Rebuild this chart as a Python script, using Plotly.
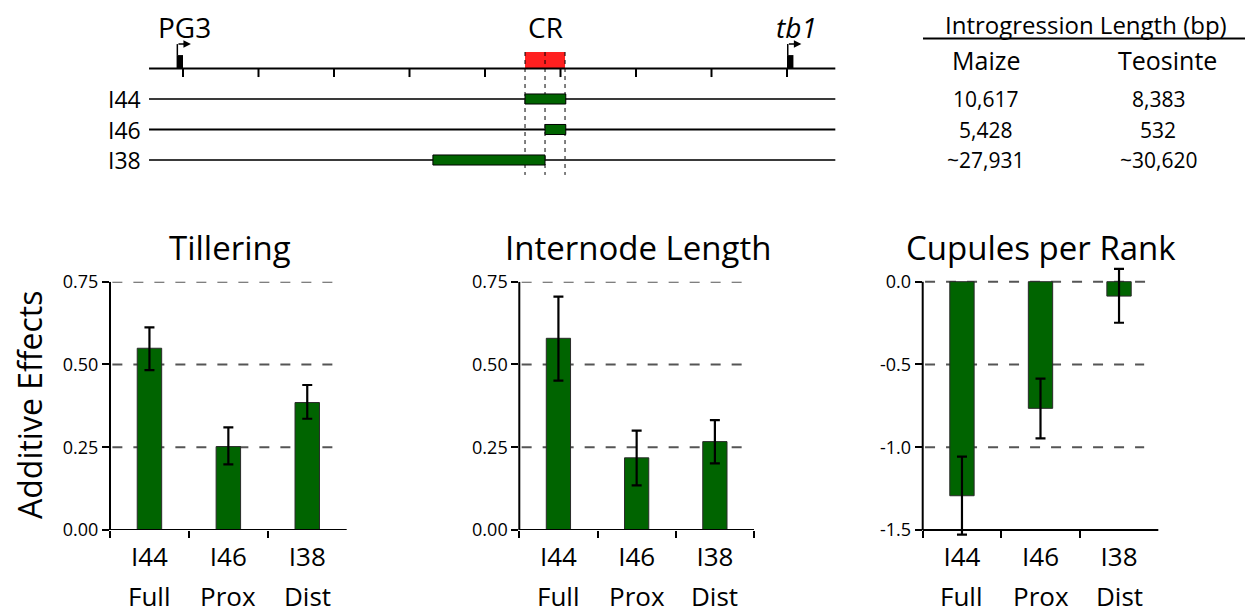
import plotly.graph_objects as go

W, H = 1253, 613
OFF = 8  # page body margin: figure is drawn 8px right/down of the page origin
FONT = "Open Sans"

# ---------------- data ----------------
categories = ["I44", "I46", "I38"]
sublabels = ["Full", "Prox", "Dist"]

panel_titles = ["Tillering", "Internode Length", "Cupules per Rank"]

tiller_vals = [0.549, 0.252, 0.385]
tiller_plus = [0.063, 0.058, 0.053]
tiller_minus = [0.066, 0.054, 0.049]

internode_vals = [0.579, 0.218, 0.267]
internode_plus = [0.126, 0.082, 0.065]
internode_minus = [0.128, 0.083, 0.066]

cupule_vals = [-1.293, -0.765, -0.087]
cupule_plus = [0.236, 0.179, 0.164]
cupule_minus = [0.235, 0.181, 0.161]

tiller_ticks = [0.0, 0.25, 0.5, 0.75]
tiller_ticktext = ["0.00", "0.25", "0.50", "0.75"]
internode_ticks = [0.0, 0.25, 0.5, 0.75]
internode_ticktext = ["0.00", "0.25", "0.50", "0.75"]
cupule_ticks = [-1.5, -1.0, -0.5, 0.0]
cupule_ticktext = ["-1.5", "-1.0", "-0.5", "0.0"]

tiller_grid = [0.25, 0.5, 0.75]
internode_grid = [0.25, 0.5, 0.75]
cupule_grid = [-1.0, -0.5, 0.0]

# genomic map (schematic map units)
map_start, map_end = -4.5, 86.4
map_ticks = [0, 10, 20, 30, 40, 50, 60, 70, 80]
cr_start, cr_mid, cr_end = 45.3, 47.95, 50.6
lines = ["I44", "I46", "I38"]
intro_start = [45.3, 47.95, 33.1]
intro_end = [50.7, 50.7, 47.95]
genes = ["PG3", "<i>tb1</i>"]
gene_pos = [0.0, 80.0]
gene_len = 0.85

table_header = "Introgression Length (bp)"
table_cols = ["Maize", "Teosinte"]
maize_len = ["10,617", "5,428", "~27,931"]
teosinte_len = ["8,383", "532", "~30,620"]

# ---------------- helpers (page pixel -> paper fraction) ----------------
def px(x):
    return (x - OFF) / W

def py(y):
    return 1 - (y - OFF) / H

GREEN = "#006400"
fig = go.Figure()

panels = [
    dict(vals=tiller_vals, plus=tiller_plus, minus=tiller_minus, ticks=tiller_ticks,
         ticktext=tiller_ticktext, grid=tiller_grid, lo=0.0, hi=0.75, rng=[0.0, 0.75],
         xdom=[110, 346.7], gridend=[0.94, 0.94, 0.94], title_x=230),
    dict(vals=internode_vals, plus=internode_plus, minus=internode_minus, ticks=internode_ticks,
         ticktext=internode_ticktext, grid=internode_grid, lo=0.0, hi=0.75, rng=[0.0, 0.75],
         xdom=[519.3, 754], gridend=[0.95, 0.95, 0.95], title_x=638),
    dict(vals=cupule_vals, plus=cupule_plus, minus=cupule_minus, ticks=cupule_ticks,
         ticktext=cupule_ticktext, grid=cupule_grid, lo=-1.5, hi=0.0, rng=[-1.56, 0.1],
         xdom=[922.7, 1158.3], gridend=[0.94, 0.94, 0.986], title_x=1041),
]

PX_BOTTOM, PX_TOP = 530.0, 281.7
shapes = []
annotations = []
layout_axes = {}

for i, p in enumerate(panels):
    n = "" if i == 0 else str(i + 1)
    scale = (PX_BOTTOM - PX_TOP) / (p["hi"] - p["lo"])
    top_px = PX_TOP - (p["rng"][1] - p["hi"]) * scale
    bot_px = PX_BOTTOM + (p["lo"] - p["rng"][0]) * scale
    fig.add_trace(go.Bar(
        x=categories, y=p["vals"], width=0.31,
        marker=dict(color=GREEN, line=dict(color="#2a2a2a", width=1)),
        error_y=dict(type="data", symmetric=False, array=p["plus"], arrayminus=p["minus"],
                     color="black", thickness=2.2, width=5),
        xaxis="x" + n, yaxis="y" + n, showlegend=False, hoverinfo="skip",
    ))
    layout_axes["xaxis" + n] = dict(
        domain=[px(p["xdom"][0]), px(p["xdom"][1])],
        anchor="free", position=py(PX_BOTTOM),
        type="category", range=[-0.5, 2.5], tickson="boundaries",
        ticks="outside", ticklen=7, tickwidth=2, tickcolor="black",
        showline=False, showgrid=False, zeroline=False,
        tickfont=dict(family=FONT, size=26, color="black"),
        ticklabelstandoff=9, automargin=False,
    )
    layout_axes["yaxis" + n] = dict(
        domain=[py(bot_px), py(top_px)], anchor="x" + n, range=p["rng"],
        tickvals=p["ticks"], ticktext=p["ticktext"],
        ticks="outside", ticklen=7, tickwidth=2, tickcolor="black",
        showline=False, showgrid=False, zeroline=False,
        tickfont=dict(family=FONT, size=18, color="black"), automargin=False,
    )
    xr = "x" + n
    yr = "y" + n
    # axis lines
    shapes.append(dict(type="line", xref=xr + " domain", yref=yr, x0=0, x1=0,
                       y0=p["lo"], y1=p["hi"], line=dict(color="black", width=2)))
    shapes.append(dict(type="line", xref=xr + " domain", yref=yr, x0=0, x1=1,
                       y0=p["lo"], y1=p["lo"], line=dict(color="black", width=2)))
    for g, ge in zip(p["grid"], p["gridend"]):
        shapes.append(dict(type="line", xref=xr + " domain", yref=yr, x0=0.01, x1=ge,
                           y0=g, y1=g, layer="below",
                           line=dict(color="#555555", width=2, dash="10px,11px")))
    annotations.append(dict(text=panel_titles[i], xref="paper", yref="paper",
                            x=px(p["title_x"]), y=py(247), xanchor="center", yanchor="middle",
                            showarrow=False, font=dict(family=FONT, size=33, color="black")))
    for c, s in zip(categories, sublabels):
        annotations.append(dict(text=s, xref=xr, yref="paper", x=c, y=py(596),
                                xanchor="center", yanchor="middle", showarrow=False,
                                font=dict(family=FONT, size=26, color="black")))

annotations.append(dict(text="Additive Effects", xref="paper", yref="paper",
                        x=px(30), y=py(405), textangle=-90, xanchor="center", yanchor="middle",
                        showarrow=False, font=dict(family=FONT, size=32, color="black")))

# ---------------- genomic map ----------------
# map axis: x in map units, y in row index (0 = map line, 1..3 = lines)
U = 7.55          # page px per map unit
X0 = 183.0        # page px of map unit 0
R0, RS = 68.5, 30.5
layout_axes["xaxis4"] = dict(domain=[0, 1], range=[(OFF - X0) / U, (W + OFF - X0) / U],
                             visible=False, anchor="y4", fixedrange=True)
layout_axes["yaxis4"] = dict(domain=[0, 1], range=[(H + OFF - R0) / RS, (OFF - R0) / RS],
                             visible=False, anchor="x4", fixedrange=True)
mx, my = "x4", "y4"
LABEL_ROW = (27 - R0) / RS

# CR box
shapes.append(dict(type="rect", xref=mx, yref=my, x0=cr_start, x1=cr_end, y0=-0.54, y1=0,
                   fillcolor="#ff2020", line=dict(width=0)))
# dashed verticals
for xv in [cr_start, cr_mid, cr_end]:
    shapes.append(dict(type="line", xref=mx, yref=my, x0=xv, x1=xv, y0=-0.54, y1=3.49,
                       line=dict(color="black", width=1, dash="4px,4px")))
# main map line
shapes.append(dict(type="line", xref=mx, yref=my, x0=map_start, x1=map_end, y0=0, y1=0,
                   line=dict(color="black", width=2)))
for t in map_ticks:
    shapes.append(dict(type="line", xref=mx, yref=my, x0=t, x1=t, y0=0, y1=0.28,
                       line=dict(color="black", width=2)))
# genes
for gname, gp in zip(genes, gene_pos):
    if gp == 0.0:
        gx0, gx1 = gp - gene_len, gp
    else:
        gx0, gx1 = gp, gp + gene_len
    shapes.append(dict(type="rect", xref=mx, yref=my, x0=gx0, x1=gx1, y0=-0.44, y1=0,
                       fillcolor="black", line=dict(width=0)))
    shapes.append(dict(type="line", xref=mx, yref=my, x0=gx0 + 0.1, x1=gx0 + 0.1, y0=-0.44, y1=-0.8,
                       line=dict(color="black", width=1.5)))
    annotations.append(dict(x=gx0 + 1.9, y=-0.8, ax=gx0 + 0.05, ay=-0.8, xref=mx, yref=my,
                            axref=mx, ayref=my, text="", showarrow=True, arrowhead=2,
                            arrowsize=1, arrowwidth=1.5, arrowcolor="black"))
    annotations.append(dict(text=gname, xref=mx, yref=my, x=gp + (0.2 if gp == 0 else 1.2),
                            y=LABEL_ROW, xanchor="center", yanchor="middle", showarrow=False,
                            font=dict(family=FONT, size=28, color="black")))
annotations.append(dict(text="CR", xref=mx, yref=my, x=cr_mid, y=LABEL_ROW, xanchor="center",
                        yanchor="middle", showarrow=False,
                        font=dict(family=FONT, size=28, color="black")))

# introgression lines
for r, (name, s, e) in enumerate(zip(lines, intro_start, intro_end), start=1):
    shapes.append(dict(type="line", xref=mx, yref=my, x0=map_start, x1=map_end, y0=r, y1=r,
                       line=dict(color="black" if name == "I46" else "#3a3a3a", width=2)))
    shapes.append(dict(type="rect", xref=mx, yref=my, x0=s, x1=e, y0=r - 0.165, y1=r + 0.165,
                       fillcolor=GREEN, line=dict(color="black", width=1)))
    annotations.append(dict(text=name, xref=mx, yref=my, x=(143 - X0) / U, y=r,
                            xanchor="right", yanchor="middle", showarrow=False,
                            font=dict(family=FONT, size=23, color="black")))
    annotations.append(dict(text=maize_len[r - 1], xref="paper", yref=my, x=px(985), y=r,
                            xanchor="center", yanchor="middle", showarrow=False,
                            font=dict(family=FONT, size=21, color="black")))
    annotations.append(dict(text=teosinte_len[r - 1], xref="paper", yref=my, x=px(1158), y=r,
                            xanchor="center", yanchor="middle", showarrow=False,
                            font=dict(family=FONT, size=21, color="black")))

# table header
annotations.append(dict(text=table_header, xref="paper", yref="paper", x=px(1086), y=py(25),
                        xanchor="center", yanchor="middle", showarrow=False,
                        font=dict(family=FONT, size=24, color="black")))
shapes.append(dict(type="line", xref="paper", yref="paper", x0=px(923), x1=px(1245),
                   y0=py(38.5), y1=py(38.5), line=dict(color="black", width=2)))
for cname, cx in zip(table_cols, [986, 1167]):
    annotations.append(dict(text=cname, xref="paper", yref="paper", x=px(cx), y=py(60),
                            xanchor="center", yanchor="middle", showarrow=False,
                            font=dict(family=FONT, size=25, color="black")))

fig.update_layout(
    width=W, height=H, autosize=False,
    margin=dict(l=0, r=0, t=0, b=0, autoexpand=False),
    paper_bgcolor="white", plot_bgcolor="rgba(0,0,0,0)",
    shapes=shapes, annotations=annotations,
    font=dict(family=FONT, color="black"),
    **layout_axes,
)

fig.write_html("out.html")
